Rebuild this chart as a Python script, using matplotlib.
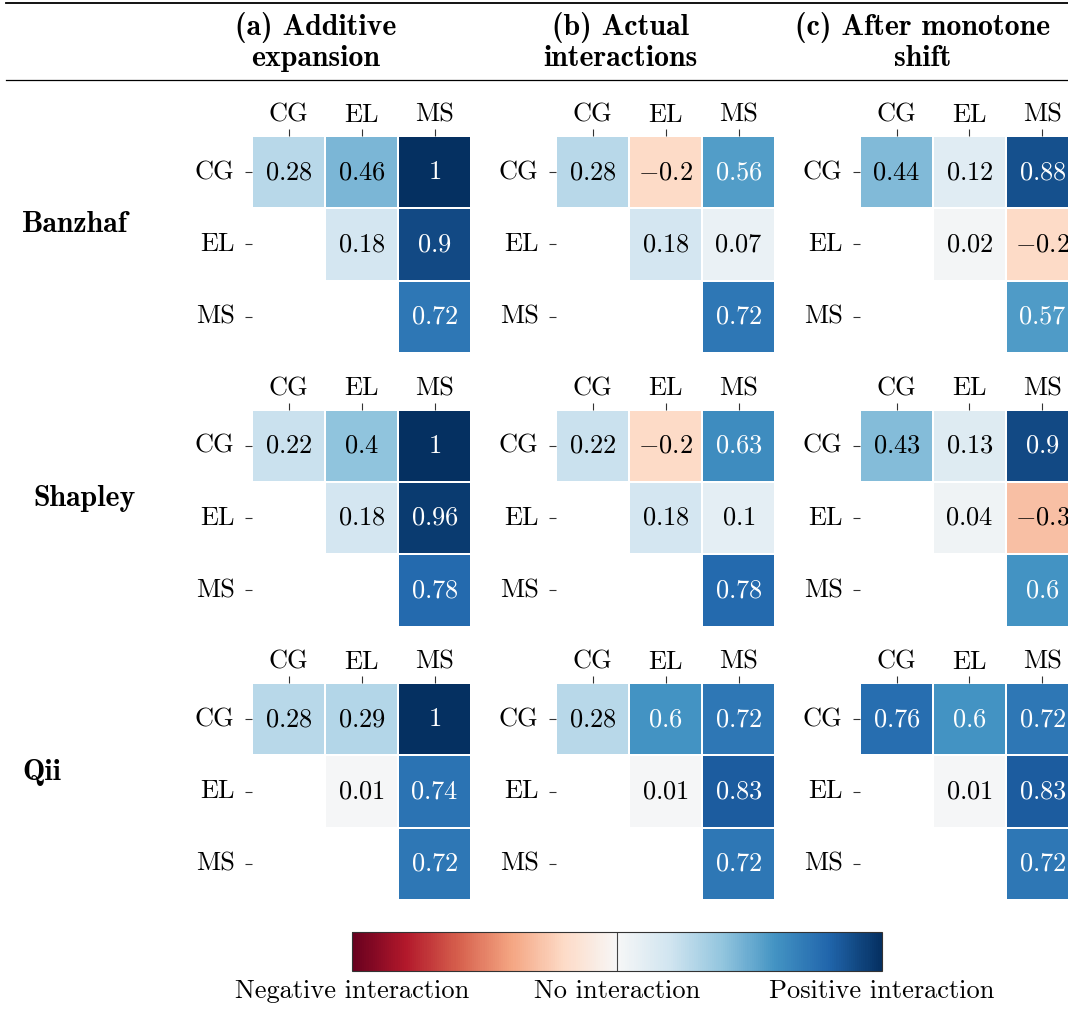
import numpy as np
import matplotlib
matplotlib.use("Agg")
import matplotlib.pyplot as plt
import seaborn as sns
from matplotlib.lines import Line2D

# figure size in pixels
W, H = 1068, 1022

features = ['CG', 'EL', 'MS']
methods = ['Banzhaf', 'Shapley', 'Qii']
headers = [('(a) Additive', 'expansion'),
           ('(b) Actual', 'interactions'),
           ('(c) After monotone', 'shift')]
cbar_labels = ['Negative interaction', 'No interaction', 'Positive interaction']

nan = np.nan
banzhaf_additive = [[0.28, 0.46, 1.0], [nan, 0.18, 0.9], [nan, nan, 0.72]]
banzhaf_actual = [[0.28, -0.2, 0.56], [nan, 0.18, 0.07], [nan, nan, 0.72]]
banzhaf_shift = [[0.44, 0.12, 0.88], [nan, 0.02, -0.2], [nan, nan, 0.57]]

shapley_additive = [[0.22, 0.4, 1.0], [nan, 0.18, 0.96], [nan, nan, 0.78]]
shapley_actual = [[0.22, -0.2, 0.63], [nan, 0.18, 0.1], [nan, nan, 0.78]]
shapley_shift = [[0.43, 0.13, 0.9], [nan, 0.04, -0.3], [nan, nan, 0.6]]

qii_additive = [[0.28, 0.29, 1.0], [nan, 0.01, 0.74], [nan, nan, 0.72]]
qii_actual = [[0.28, 0.6, 0.72], [nan, 0.01, 0.83], [nan, nan, 0.72]]
qii_shift = [[0.76, 0.6, 0.72], [nan, 0.01, 0.83], [nan, nan, 0.72]]

grids = [[banzhaf_additive, banzhaf_actual, banzhaf_shift],
         [shapley_additive, shapley_actual, shapley_shift],
         [qii_additive, qii_actual, qii_shift]]

plt.rcParams['font.family'] = ['cmr10']
plt.rcParams['mathtext.fontset'] = 'cm'
plt.rcParams['axes.formatter.use_mathtext'] = True

FS = 19
FS_BOLD = 21.5


def px_rect(left, top, w, h):
    return [left / W, 1 - (top + h) / H, w / W, h / H]


fig = plt.figure(figsize=(W / 100, H / 100), dpi=100)

# booktabs style rules
fig.add_artist(Line2D([6 / W, 1.0], [1 - 3.5 / H] * 2, color='black', lw=1.3,
                      transform=fig.transFigure))
fig.add_artist(Line2D([6 / W, 1.0], [1 - 80.5 / H] * 2, color='black', lw=0.9,
                      transform=fig.transFigure))

head_x = [316, 620, 923]
for (l1, l2), hx in zip(headers, head_x):
    fig.text(hx / W, 1 - 35 / H, l1, ha='center', va='baseline',
             family='cmb10', fontsize=FS_BOLD)
    fig.text(hx / W, 1 - 66 / H, l2, ha='center', va='baseline',
             family='cmb10', fontsize=FS_BOLD)

row_x = [22, 33, 22]
row_base = [232.5, 506, 780]
for name, rx, ry in zip(methods, row_x, row_base):
    fig.text(rx / W, 1 - ry / H, name, ha='left', va='baseline',
             family='cmb10', fontsize=FS_BOLD)

for i in range(3):
    for j in range(3):
        ax = fig.add_axes(px_rect(252 + 304 * j, 136 + 273.5 * i, 219, 217))
        vals = np.array(grids[i][j], dtype=float)
        mask = np.isnan(vals)
        labels = np.array([['' if np.isnan(v) else '$%g$' % v for v in row]
                           for row in vals])
        sns.heatmap(vals, mask=mask, cmap='RdBu', vmin=-1, vmax=1,
                    annot=labels, fmt='', annot_kws={'fontsize': FS},
                    linewidths=1.2, linecolor='white', cbar=False,
                    xticklabels=features, yticklabels=features, ax=ax)
        for t in ax.texts:
            if t.get_color() != 'w':
                t.set_color('black')
        ax.xaxis.tick_top()
        ax.tick_params(axis='x', top=True, bottom=False, labeltop=True,
                       labelbottom=False, length=5, width=0.8, pad=1.5,
                       color='#333333', labelsize=FS, labelrotation=0)
        ax.tick_params(axis='y', length=5, width=0.8, pad=7.5,
                       color='#333333', labelsize=FS, labelrotation=0)

# colorbar
cax = fig.add_axes(px_rect(352, 932, 530, 39))
sm = plt.cm.ScalarMappable(norm=plt.Normalize(-1, 1), cmap='RdBu')
cb = fig.colorbar(sm, cax=cax, orientation='horizontal', ticks=[-1, 0, 1])
cb.set_ticklabels(cbar_labels)
cax.tick_params(length=0, pad=6, labelsize=FS)
cb.outline.set_edgecolor('#333333')
cb.outline.set_linewidth(0.8)
cax.axvline(0, color='#444444', lw=0.8)

fig.savefig('out.png', dpi=100)
